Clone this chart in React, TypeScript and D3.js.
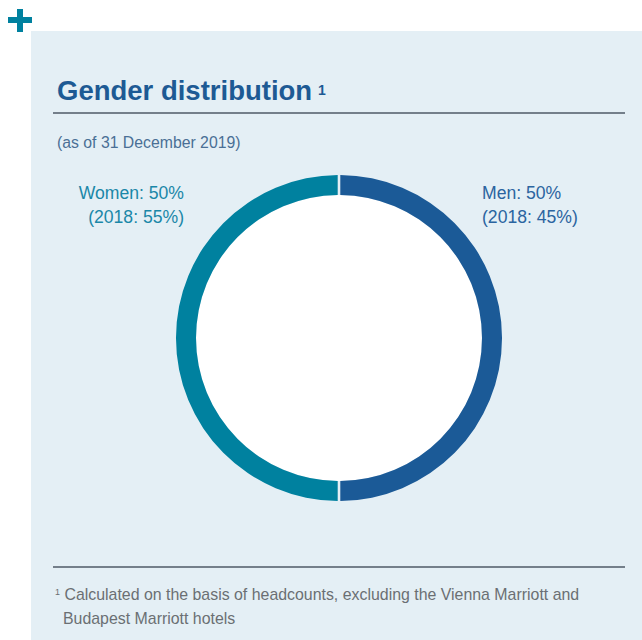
import React from "react";
import * as d3 from "d3";

const categories = ["Men", "Women"];
const values2019 = [50, 50];
const values2018 = [45, 55];
const colors = ["#1b5a97", "#00819f"];
const labelColors = ["#2b64a0", "#1a87a8"];

const W = 642;
const H = 640;

export default function App() {
  const cx = 339;
  const cy = 338;
  const outerR = 163;
  const innerR = 143;
  const pie = d3.pie<number>().sort(null).value((d) => d).padAngle(0.012);
  const arcs = pie(values2019);
  const arcGen = d3.arc<d3.PieArcDatum<number>>().innerRadius(innerR).outerRadius(outerR);

  return (
    <svg
      width={W}
      height={H}
      style={{ position: "absolute", left: 0, top: 0, fontFamily: "'Liberation Sans', Arial, sans-serif" }}
    >
      <rect x={0} y={0} width={W} height={H} fill="#ffffff" />
      <rect x={31} y={31} width={W - 31} height={H - 31} fill="#e4eff5" />
      {/* plus sign */}
      <rect x={8} y={17} width={24} height={6} fill="#00819f" />
      <rect x={17} y={9} width={6} height={23} fill="#00819f" />

      <text x={57} y={100} fontSize={27.5} fontWeight="bold" fill="#1d5a94">
        Gender distribution
      </text>
      <text x={318} y={95} fontSize={14} fontWeight="bold" fill="#1d5a94">
        1
      </text>
      <line x1={53} x2={625} y1={113} y2={113} stroke="#4f5a66" strokeWidth={1.3} />
      <text x={57} y={148} fontSize={15.8} fill="#4a6f95">
        (as of 31 December 2019)
      </text>

      <g transform={`translate(${cx},${cy})`}>
        <circle r={innerR} fill="#ffffff" />
        {arcs.map((a, i) => (
          <path key={categories[i]} d={arcGen(a) || ""} fill={colors[i]} />
        ))}
      </g>

      {/* labels */}
      <text x={482} y={199} fontSize={17.6} fill={labelColors[0]}>
        {`${categories[0]}: ${values2019[0]}%`}
      </text>
      <text x={482} y={223} fontSize={17.6} fill={labelColors[0]}>
        {`(2018: ${values2018[0]}%)`}
      </text>
      <text x={184} y={199} fontSize={17.6} fill={labelColors[1]} textAnchor="end">
        {`${categories[1]}: ${values2019[1]}%`}
      </text>
      <text x={184} y={223} fontSize={17.6} fill={labelColors[1]} textAnchor="end">
        {`(2018: ${values2018[1]}%)`}
      </text>

      <line x1={53} x2={625} y1={567} y2={567} stroke="#4f5a66" strokeWidth={1.3} />
      <text x={55} y={600} fontSize={15.9} fill="#6b6f73">
        <tspan fontSize={9} dy={-5}>1</tspan>
        <tspan dy={5}> Calculated on the basis of headcounts, excluding the Vienna Marriott and</tspan>
      </text>
      <text x={63} y={624} fontSize={15.9} fill="#6b6f73">
        Budapest Marriott hotels
      </text>
    </svg>
  );
}
